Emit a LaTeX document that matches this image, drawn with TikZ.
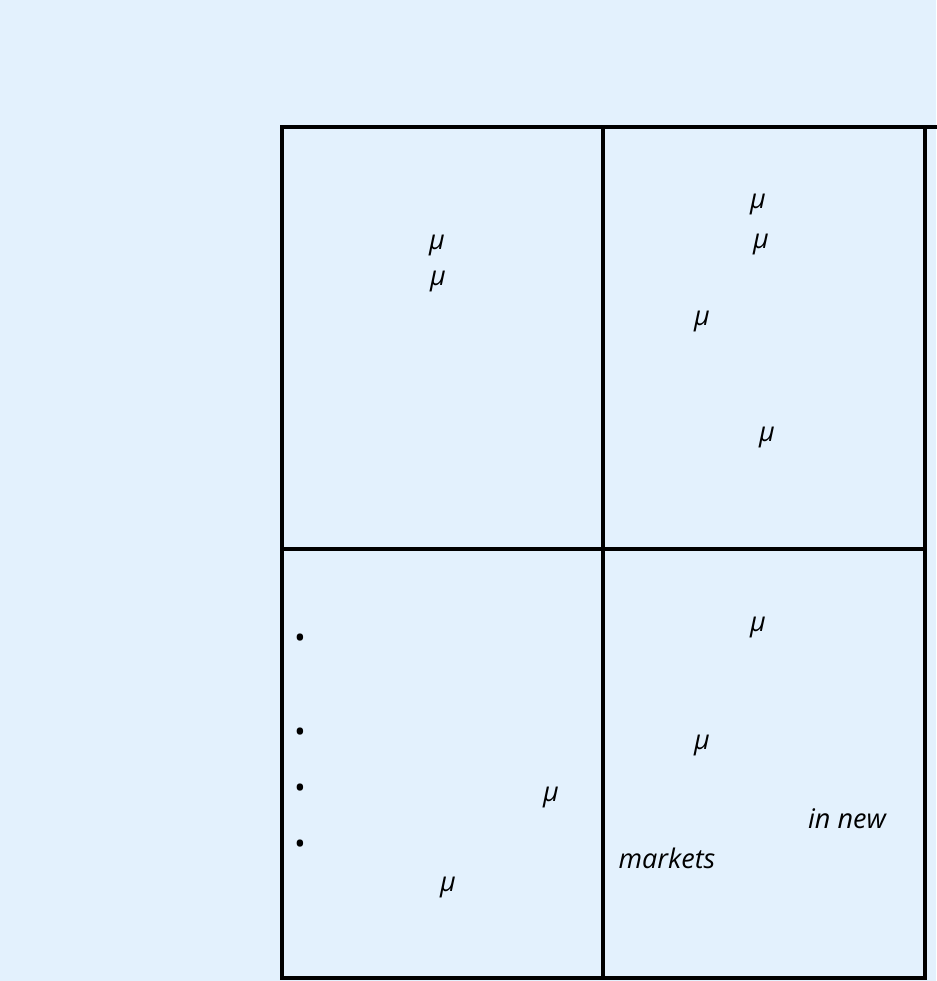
\documentclass[tikz,border=0pt]{standalone}
\usepackage{fontspec}
\setmainfont{Open Sans}
\definecolor{paleblue}{HTML}{E3F1FD}
\usetikzlibrary{positioning}
\begin{document}
\begin{tikzpicture}[x=1pt, y=-1pt,
    gridline/.style={line width=3.5pt, line cap=rect},
    glyph/.style={font=\fontsize{27}{32}\selectfont\itshape, inner sep=0pt},
    bulletmark/.style={font=\fontsize{30}{34}\selectfont, inner sep=0pt},
  ]
    \fill[paleblue] (0,0) rectangle (936,981);
    \useasboundingbox (0,0) rectangle (936,981);
    % grid of four cells
    \draw[gridline] (282,127) -- (936,127);
    \draw[gridline] (282,127) -- (282,978) -- (925,978) -- (925,127);
    \draw[gridline] (603,127) -- (603,978);
    \draw[gridline] (282,549) -- (925,549);
    % top left cell
    \node[glyph] (tlA) at (437,246) {μ};
    \node[glyph] (tlB) at (438,282) {μ};
    % top right cell
    \node[glyph] (trA) at (758,205) {μ};
    \node[glyph] (trB) at (761,245) {μ};
    \node[glyph] (trC) at (702,322) {μ};
    \node[glyph] (trD) at (767,438) {μ};
    % bottom left cell
    \node[bulletmark] (blA) at (300,641) {•};
    \node[bulletmark] (blB) at (300,735) {•};
    \node[bulletmark] (blC) at (300,791) {•};
    \node[bulletmark] (blD) at (300,847) {•};
    \node[glyph] (blE) at (551,797) {μ};
    \node[glyph] (blF) at (448,887) {μ};
    % bottom right cell
    \node[glyph] (brA) at (758,627) {μ};
    \node[glyph] (brB) at (702,745) {μ};
    \node[glyph] (brC) at (847,819) {in new};
    \node[glyph] (brD) at (667,858) {markets};
\end{tikzpicture}
\end{document}
